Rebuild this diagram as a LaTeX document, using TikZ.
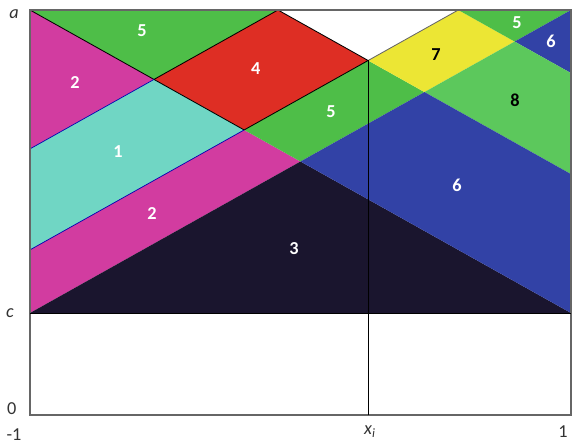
\documentclass[tikz,border=0pt]{standalone}
\usepackage{fontspec}
\setmainfont{Carlito}
\usepackage{xcolor}
\usepackage{tikz}

\definecolor{zgreen}{RGB}{78,190,72}
\definecolor{zlgreen}{RGB}{92,200,92}
\definecolor{zpink}{RGB}{210,60,160}
\definecolor{zred}{RGB}{222,46,36}
\definecolor{zcyan}{RGB}{112,214,196}
\definecolor{zdark}{RGB}{26,21,46}
\definecolor{zblue}{RGB}{50,66,166}
\definecolor{zyellow}{RGB}{236,230,52}

\begin{document}
\begin{tikzpicture}[
        x=6.7625cm, y=3.7875cm,
        every node/.style={font=\fontsize{13}{15}\selectfont},
        zone/.style={font=\fontsize{13}{15}\selectfont\bfseries, text=white},
        darkzone/.style={zone, text=black},
        axlabel/.style={text=black!80, inner sep=0pt},
        edge/.style={black, line width=0.6pt},
        frame/.style={black!60, line width=0.8pt}
    ]
        \useasboundingbox (-1.1109,-0.198) rectangle (1.0037,2.7393);

        % corner points of the zones (y measured from c)
        \begin{scope}[shift={(0,0.6733)}]
            \coordinate (tl) at (-1,2);
            \coordinate (tb) at (-0.0833,2);
            \coordinate (tc) at (0.5833,2);
            \coordinate (tr) at (1,2);
            \coordinate (pA) at (-0.5417,1.5417);
            \coordinate (pB) at (-0.2083,1.2083);
            \coordinate (pO) at (0,1);
            \coordinate (pC) at (0.4583,1.4583);
            \coordinate (pX) at (0.25,1.6667);
            \coordinate (pE) at (0.7917,1.7917);
            \coordinate (l1) at (-1,1.0833);
            \coordinate (l2) at (-1,0.4167);
            \coordinate (cl) at (-1,0);
            \coordinate (cr) at (1,0);
            \coordinate (r1) at (1,0.9167);
            \coordinate (r2) at (1,1.5833);
        \end{scope}

        \fill[zgreen] (tl) -- (tb) -- (pA) -- cycle;
        \fill[zpink] (tl) -- (pA) -- (l1) -- cycle;
        \fill[zred] (pA) -- (tb) -- (pX) -- (pB) -- cycle;
        \fill[zcyan] (l1) -- (pA) -- (pB) -- (l2) -- cycle;
        \fill[zpink] (l2) -- (pB) -- (pO) -- (cl) -- cycle;
        \fill[zdark] (cl) -- (pO) -- (cr) -- cycle;
        \fill[zgreen] (pB) -- (pX) -- (pC) -- (pO) -- cycle;
        \fill[zyellow] (pX) -- (tc) -- (pE) -- (pC) -- cycle;
        \fill[zgreen] (tc) -- (tr) -- (pE) -- cycle;
        \fill[zblue] (pE) -- (tr) -- (r2) -- cycle;
        \fill[zlgreen] (pC) -- (pE) -- (r2) -- (r1) -- cycle;
        \fill[zblue] (pO) -- (pC) -- (r1) -- (cr) -- cycle;

        % boundaries
        \draw[edge] (tl) -- (pB);
        \draw[edge] (pA) -- (tb) -- (pX) -- (pB);
        \draw[black!60, line width=0.6pt] (pX) -- (tc);
        \draw[blue!70!black, line width=0.5pt] (l1) -- (pA);
        \draw[blue!70!black, line width=0.5pt] (l2) -- (pB);

        % axes
        \coordinate (o) at (-1,0);
        \coordinate (br) at (1,0);
        \coordinate (xi) at (0.25,0);
        \draw[frame] (o) rectangle (1,2.6733);
        \draw[edge] (cl) -- (cr);
        \draw[edge] (xi) -- (pX);

        \node[zone] (n5a) at (-0.586,2.535) {5};
        \node[zone] (n2a) at (-0.834,2.198) {2};
        \node[zone] (n4) at (-0.165,2.284) {4};
        \node[zone] (n1) at (-0.675,1.736) {1};
        \node[zone] (n2b) at (-0.549,1.327) {2};
        \node[zone] (n3) at (-0.024,1.096) {3};
        \node[zone] (n5b) at (0.113,2.0) {5};
        \node[darkzone] (n7) at (0.501,2.376) {7};
        \node[darkzone] (n8) at (0.793,2.079) {8};
        \node[zone] (n6a) at (0.579,1.518) {6};
        \node[zone] (n5c) at (0.800,2.587) {5};
        \node[zone] (n6b) at (0.926,2.469) {6};

        \node[axlabel] (la) at (-1.059,2.647) {\itshape a};
        \node[axlabel] (lc) at (-1.074,0.673) {\itshape c};
        \node[axlabel] (l0) at (-1.067,0.04) {0};
        \node[axlabel] (lm1) at (-1.059,-0.128) {-1};
        \node[axlabel] (lxi) at (0.257,-0.112) {\itshape x\textsubscript{i}};
        \node[axlabel] (lp1) at (0.970,-0.112) {1};
    \end{tikzpicture}
\end{document}
